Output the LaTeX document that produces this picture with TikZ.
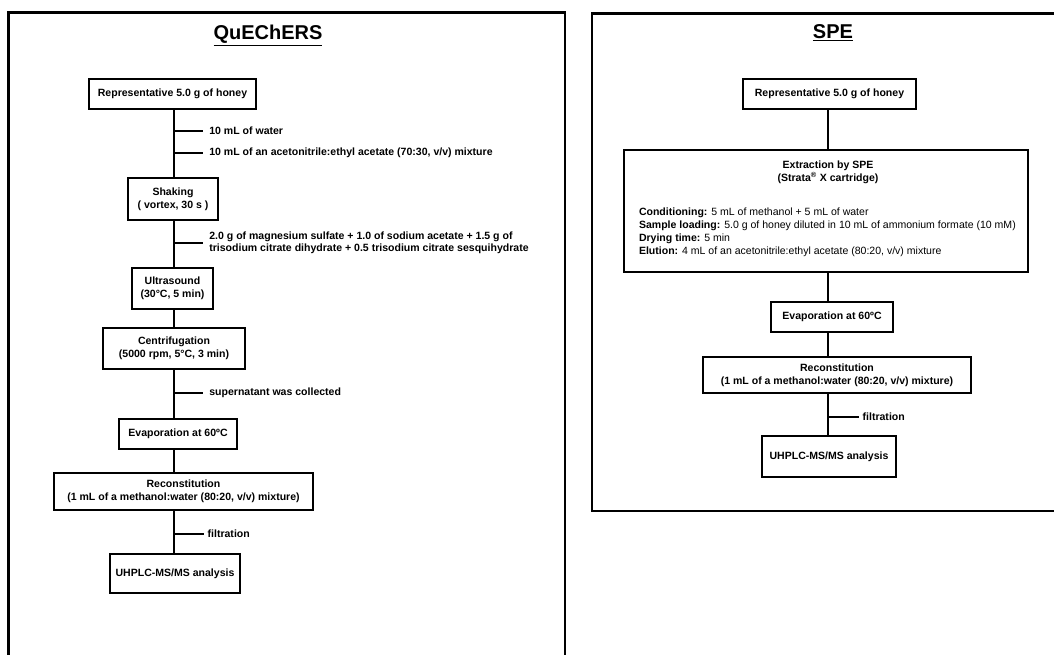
\documentclass[tikz,border=0pt]{standalone}
\usepackage{fontspec}
\setmainfont{Liberation Sans}
\usepackage{tikz}

\tikzset{
    panel/.style={line width=2pt},
    stepbox/.style={draw,line width=1.5pt,inner sep=0pt,align=center,
        font=\fontsize{7.9}{9.6}\selectfont\bfseries},
    addlabel/.style={anchor=west,inner sep=4pt,align=left,
        font=\fontsize{7.9}{9.1}\selectfont\bfseries},
    paneltitle/.style={font=\fontsize{15}{18}\selectfont\bfseries}
}

\begin{document}
\begin{tikzpicture}[x=0.75pt,y=-0.75pt,line width=1.5pt]
                \useasboundingbox (0,0) rectangle (1054,655);
                % QuEChERS
                \draw[panel] (8.5,656) -- (8.5,12.7) -- (565,12.7) -- (565,656);
                \node[paneltitle] (titleQ) at (268,36) {\underline{QuEChERS}};
                \coordinate (spineQ) at (173.5,0);

                \node[stepbox,minimum width=167*0.75pt,minimum height=30*0.75pt] (honeyQ) at (172.5,94) {Representative 5.0 g of honey};
                \node[stepbox,minimum width=90*0.75pt,minimum height=42*0.75pt] (shake) at (173,199) {Shaking\\( vortex, 30 s )};
                \node[stepbox,minimum width=81*0.75pt,minimum height=41*0.75pt] (sound) at (172.5,288.5) {Ultrasound\\(30°C, 5 min)};
                \node[stepbox,minimum width=142*0.75pt,minimum height=41*0.75pt] (centri) at (174,348.5) {Centrifugation\\(5000 rpm, 5°C, 3 min)};
                \node[stepbox,minimum width=118*0.75pt,minimum height=30*0.75pt] (evapQ) at (178,434) {Evaporation at 60ºC};
                \node[stepbox,minimum width=259*0.75pt,minimum height=37*0.75pt] (reconQ) at (183.5,491.5) {Reconstitution\\(1 mL of a methanol:water (80:20, v/v) mixture)};
                \node[stepbox,minimum width=130*0.75pt,minimum height=39*0.75pt] (uhplcQ) at (175,573.5) {UHPLC-MS/MS analysis};

                \draw (honeyQ.south -| spineQ) -- (shake.north -| spineQ);
                \draw (shake.south -| spineQ) -- (sound.north -| spineQ);
                \draw (sound.south -| spineQ) -- (centri.north -| spineQ);
                \draw (centri.south -| spineQ) -- (evapQ.north -| spineQ);
                \draw (evapQ.south -| spineQ) -- (reconQ.north -| spineQ);
                \draw (reconQ.south -| spineQ) -- (uhplcQ.north -| spineQ);

                \node[addlabel] (water) at (203,131) {10 mL of water};
                \node[addlabel] (solvQ) at (203,153) {10 mL of an acetonitrile:ethyl acetate (70:30, v/v) mixture};
                \node[addlabel] (salts) at (203,243) {2.0 g of magnesium sulfate + 1.0 of sodium acetate + 1.5 g of\\trisodium citrate dihydrate + 0.5 trisodium citrate sesquihydrate};
                \node[addlabel] (super) at (203,393) {supernatant was collected};
                \node[addlabel,inner sep=2pt] (filtQ) at (204,534) {filtration};

                \draw (water.west -| spineQ) -- (water.west);
                \draw (solvQ.west -| spineQ) -- (solvQ.west);
                \draw (salts.west -| spineQ) -- (salts.west);
                \draw (super.west -| spineQ) -- (super.west);
                \draw (filtQ.west -| spineQ) -- (filtQ.west);

                % SPE
                \draw[panel] (1055,13.5) -- (592,13.5) -- (592,511) -- (1055,511);
                \node[paneltitle] (titleS) at (833,33) {\underline{SPE}};
                \coordinate (spineS) at (828,0);

                \node[stepbox,minimum width=173*0.75pt,minimum height=30*0.75pt] (honeyS) at (829.5,94) {Representative 5.0 g of honey};
                \node[stepbox,minimum width=404*0.75pt,minimum height=122*0.75pt] (extract) at (826,211) {};
                \node[align=center,inner sep=0pt,font=\fontsize{7.9}{9.75}\selectfont\bfseries] (exthead) at (828,172.5) {Extraction by SPE\\(Strata\textsuperscript{®} X cartridge)};
                \node[anchor=north west,align=left,inner sep=0pt,font=\fontsize{7.9}{9.75}\selectfont] (extsteps) at (638,207) {\textbf{Conditioning:} 5 mL of methanol + 5 mL of water\\\textbf{Sample loading:} 5.0 g of honey diluted in 10 mL of ammonium formate (10 mM)\\\textbf{Drying time:} 5 min\\\textbf{Elution:} 4 mL of an acetonitrile:ethyl acetate (80:20, v/v) mixture};
                \node[stepbox,minimum width=122*0.75pt,minimum height=30*0.75pt] (evapS) at (832,317) {Evaporation at 60ºC};
                \node[stepbox,minimum width=268*0.75pt,minimum height=36*0.75pt] (reconS) at (837,375) {Reconstitution\\(1 mL of a methanol:water (80:20, v/v) mixture)};
                \node[stepbox,minimum width=134*0.75pt,minimum height=41*0.75pt] (uhplcS) at (829,457) {UHPLC-MS/MS analysis};

                \draw (honeyS.south -| spineS) -- (extract.north -| spineS);
                \draw (extract.south -| spineS) -- (evapS.north -| spineS);
                \draw (evapS.south -| spineS) -- (reconS.north -| spineS);
                \draw (reconS.south -| spineS) -- (uhplcS.north -| spineS);

                \node[addlabel,inner sep=2pt] (filtS) at (859,417) {filtration};
                \draw (filtS.west -| spineS) -- (filtS.west);
            \end{tikzpicture}
\end{document}
